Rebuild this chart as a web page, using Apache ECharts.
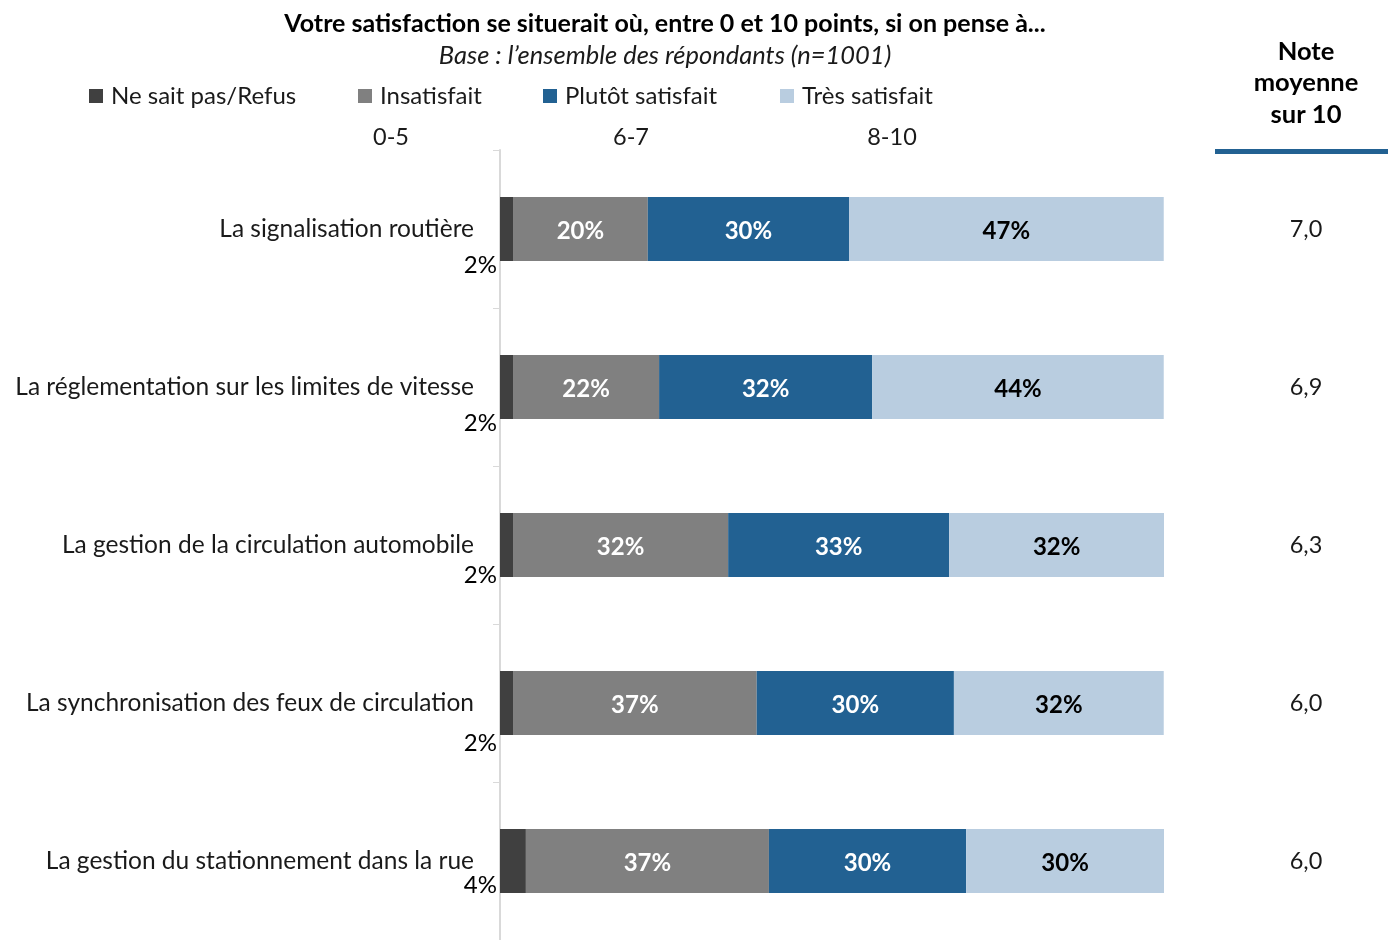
<!DOCTYPE html>
<html><head><meta charset="utf-8">
<script src="https://cdn.jsdelivr.net/npm/echarts@6/dist/echarts.min.js"></script>
<style>html,body{margin:0;padding:0;background:#fff}#c{width:1388px;height:940px}</style>
</head><body><div id="c"></div>
<script>
const categories = [
  'La signalisation routière',
  'La réglementation sur les limites de vitesse',
  'La gestion de la circulation automobile',
  'La synchronisation des feux de circulation',
  'La gestion du stationnement dans la rue'
];
const seriesNames = ['Ne sait pas/Refus', 'Insatisfait', 'Plutôt satisfait', 'Très satisfait'];
const rangeLabels = ['0-5', '6-7', '8-10'];
const nspValues = [1.96, 1.96, 1.96, 1.96, 3.9];
const insatValues = [20.3, 22.0, 32.4, 36.7, 36.6];
const plutotValues = [30.3, 32.1, 33.3, 29.7, 29.7];
const tresValues = [47.4, 43.9, 32.4, 31.6, 29.8];
const notes = ['7,0', '6,9', '6,3', '6,0', '6,0'];

const FONT = 'Lato, "Open Sans", sans-serif';
const colors = ['#404040', '#808080', '#226192', '#B9CDE0'];
const nspLabelOffsets = [68, 68, 62, 72, 56];

const chart = echarts.init(document.getElementById('c'), null, {renderer: 'canvas'});
const allValues = [nspValues, insatValues, plutotValues, tresValues];
const labelColors = [null, '#ffffff', '#ffffff', '#000000'];

const series = allValues.map((vals, si) => ({
  name: seriesNames[si],
  type: 'bar',
  stack: 'total',
  barWidth: 64,
  itemStyle: {color: colors[si]},
  data: vals.map((v, i) => {
    const d = {value: v};
    if (si === 0) {
      d.label = {show: true, position: [-3, nspLabelOffsets[i]], align: 'right', verticalAlign: 'middle',
        color: '#000', fontSize: 24, fontFamily: FONT,
        formatter: p => Math.round(p.value) + '%'};
    }
    return d;
  }),
  label: si === 0 ? {show: true} : {
    show: true, position: 'inside', color: labelColors[si], fontWeight: 'bold',
    fontSize: 24, fontFamily: FONT, offset: [0, 2], formatter: p => Math.round(p.value) + '%'
  },
  emphasis: {disabled: true},
  animation: false
}));

const legendLefts = [89, 358, 543, 780];
const legends = seriesNames.map((n, i) => ({
  data: [n], left: legendLefts[i], top: 84, padding: 0, itemWidth: 14, itemHeight: 14, itemGap: 8,
  icon: 'rect', selectedMode: false,
  textStyle: {fontSize: 24, fontFamily: FONT, color: '#1a1a1a', padding: [0, 0, 0, 3]}
}));

const rangeXs = [391, 631, 892];

chart.setOption({
  animation: false,
  backgroundColor: '#ffffff',
  legend: legends,
  grid: {left: 500, right: 224, top: 150, bottom: 0, containLabel: false},
  xAxis: {type: 'value', min: 0, max: 100, show: false},
  yAxis: [{
    type: 'category', data: categories, inverse: true,
    axisLine: {show: true, lineStyle: {color: '#d9d9d9', width: 2}},
    axisTick: {show: true, length: 7, lineStyle: {color: '#d9d9d9', width: 1}},
    axisLabel: {fontSize: 24.5, fontFamily: FONT, color: '#1a1a1a', margin: 26, verticalAlign: 'middle', padding: [0, 0, 2, 0]}
  }, {
    type: 'category', inverse: true, position: 'right', data: notes,
    axisLine: {show: false}, axisTick: {show: false},
    axisLabel: {fontSize: 23.5, fontFamily: FONT, color: '#1a1a1a', margin: 142, align: 'center', verticalAlign: 'middle'}
  }],
  series: series,
  graphic: [
    {type: 'text', x: 665, y: 24, style: {text: 'Votre satisfaction se situerait où, entre 0 et 10 points, si on pense à...', font: 'bold 25px ' + FONT, fill: '#000', align: 'center', verticalAlign: 'middle'}},
    {type: 'text', x: 665, y: 56, style: {text: 'Base : l’ensemble des répondants (n=1001)', font: 'italic 25.5px ' + FONT, fill: '#1a1a1a', align: 'center', verticalAlign: 'middle'}},
    ...rangeLabels.map((t, i) => ({type: 'text', x: rangeXs[i], y: 137, style: {text: t, font: '23.5px ' + FONT, fill: '#1a1a1a', align: 'center', verticalAlign: 'middle'}})),
    {type: 'text', x: 1306, y: 83, style: {text: 'Note\nmoyenne\nsur 10', font: 'bold 25.5px ' + FONT, lineHeight: 31.5, fill: '#000', align: 'center', verticalAlign: 'middle'}},
    {type: 'rect', shape: {x: 1215, y: 149, width: 173, height: 5}, style: {fill: '#226192'}}
  ]
});
</script></body></html>
